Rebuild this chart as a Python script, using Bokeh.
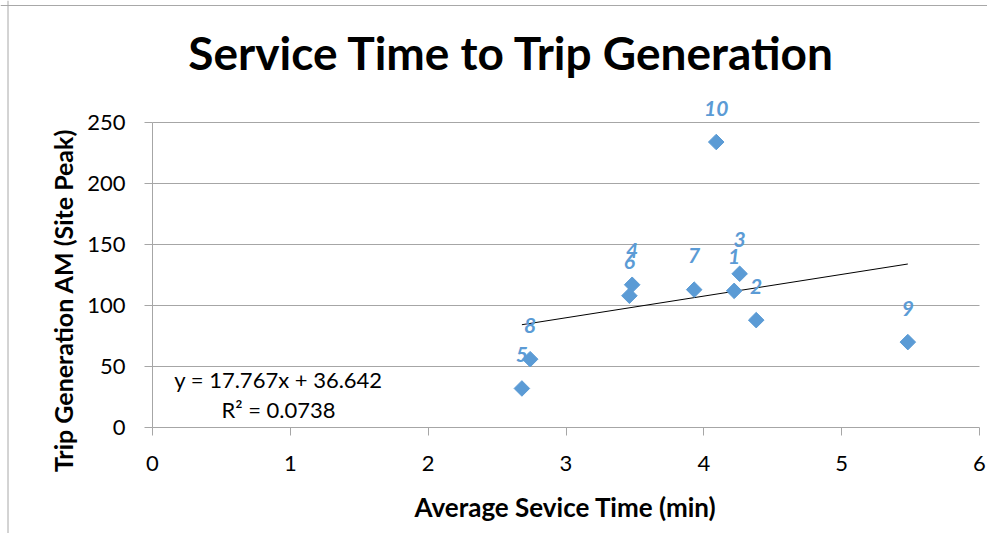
import math
from bokeh.plotting import figure
from bokeh.models import (ColumnDataSource, LabelSet, Label, FixedTicker,
                          Range1d, LinearAxis, Span)
from bokeh.core.properties import value
from bokeh.embed import file_html
from bokeh.resources import INLINE

# ---- data ----
site_ids = ["1", "2", "3", "4", "5", "6", "7", "8", "9", "10"]
service_time = [4.22, 4.38, 4.26, 3.48, 2.68, 3.46, 3.93, 2.74, 5.48, 4.09]
trips_am = [112, 88, 126, 117, 32, 108, 113, 56, 70, 234]
trend_slope = 17.767
trend_intercept = 36.642
r_squared = 0.0738
x_ticks = [0, 1, 2, 3, 4, 5, 6]
y_ticks = [0, 50, 100, 150, 200, 250]

title_text = "Service Time to Trip Generation"
x_title = "Average Sevice Time (min)"
y_title = "Trip Generation AM (Site Peak)"

# ---- layout (pixels) ----
FONT = "Lato"
BLUE = "#5B9BD5"
GRID = "#A6A6A6"
W, H = 987, 533
PL, PR, PT, PB = 152, 979, 122, 427   # plot area edges in canvas pixels
BASE_K = 0.43                          # baseline correction (fraction of font size)
x0, x1 = x_ticks[0], x_ticks[-1]
y0, y1 = y_ticks[0], y_ticks[-1]
sx = (PR - PL) / (x1 - x0)
sy = (PB - PT) / (y1 - y0)


def dx(px):
    return x0 + (px - PL) / sx


def dy(py):
    return y0 + (PB - py) / sy


def base_y(py, fs):
    return dy(py - BASE_K * fs)


p = figure(width=W, height=H, output_backend="svg", toolbar_location=None,
           x_range=Range1d(dx(0), dx(W)), y_range=Range1d(dy(H), dy(0)),
           x_axis_location=None, y_axis_location=None,
           min_border=0, min_border_left=0, min_border_right=0,
           min_border_top=0, min_border_bottom=0)
p.outline_line_color = None
p.background_fill_color = "white"
p.border_fill_color = "white"
p.xgrid.grid_line_color = None
p.ygrid.grid_line_color = None

# chart border (left and top)
p.add_layout(Span(location=dx(7.5), dimension="height", line_color="#A8A8A8", line_width=1))
p.add_layout(Span(location=dy(5), dimension="width", line_color="#A8A8A8", line_width=1))

# horizontal gridlines
p.segment(x0=[x0] * (len(y_ticks) - 1), x1=[x1] * (len(y_ticks) - 1),
          y0=y_ticks[1:], y1=y_ticks[1:], line_color=GRID, line_width=1)

# axes
xa = LinearAxis(fixed_location=y0, bounds=(x0, x1), ticker=FixedTicker(ticks=x_ticks))
ya = LinearAxis(fixed_location=x0, bounds=(y0, y1), ticker=FixedTicker(ticks=y_ticks))
for ax in (xa, ya):
    ax.axis_line_color = GRID
    ax.major_tick_line_color = GRID
    ax.major_tick_out = 8
    ax.major_tick_in = 0
    ax.minor_tick_line_color = None
    ax.major_label_text_font = FONT
    ax.major_label_text_font_size = "22px"
    ax.major_label_text_color = "#000000"
xa.major_label_standoff = 20
ya.major_label_standoff = 19
p.add_layout(xa, "below")
p.add_layout(ya, "left")

# trendline
tx = [min(service_time), max(service_time)]
ty = [trend_slope * v + trend_intercept for v in tx]
p.line(tx, ty, line_color="black", line_width=1)

# points
src = ColumnDataSource(dict(x=service_time, y=trips_am, lab=site_ids))
p.scatter("x", "y", source=src, marker="square", angle=math.pi / 4, size=11,
          fill_color=BLUE, line_color=BLUE)

labels = LabelSet(x="x", y="y", text="lab", source=src, y_offset=34,
                  text_align="center", text_baseline="middle",
                  text_font=value(FONT), text_font_style="bold italic",
                  text_font_size="21px", text_color=BLUE)
p.add_layout(labels)

# equation
EQ_FS = 22
eq_x = dx(278)
p.add_layout(Label(x=eq_x, y=base_y(388.3, EQ_FS), text=f"y = {trend_slope}x + {trend_intercept}",
                   text_align="center", text_baseline="alphabetic",
                   text_font=FONT, text_font_size=f"{EQ_FS}px", text_color="#000000"))
p.add_layout(Label(x=eq_x, y=base_y(418.3, EQ_FS), text=f"R\u00b2 = {r_squared}",
                   text_align="center", text_baseline="alphabetic",
                   text_font=FONT, text_font_size=f"{EQ_FS}px", text_color="#000000"))

# title
T_FS = 46
p.add_layout(Label(x=dx(511.5), y=base_y(72, T_FS), text=title_text,
                   text_align="center", text_baseline="alphabetic",
                   text_font=FONT, text_font_style="bold", text_font_size=f"{T_FS}px",
                   text_color="#000000"))

# axis titles
A_FS = 26
p.add_layout(Label(x=dx(565), y=base_y(517.7, A_FS), text=x_title,
                   text_align="center", text_baseline="alphabetic",
                   text_font=FONT, text_font_style="bold", text_font_size=f"{A_FS}px",
                   text_color="#000000"))
YA_FS = 25
p.add_layout(Label(x=dx(73 - BASE_K * YA_FS), y=dy(300), text=y_title, angle=math.pi / 2,
                   text_align="center", text_baseline="alphabetic",
                   text_font=FONT, text_font_style="bold", text_font_size=f"{YA_FS}px",
                   text_color="#000000"))

open("out.html", "w").write(file_html(p, INLINE))
